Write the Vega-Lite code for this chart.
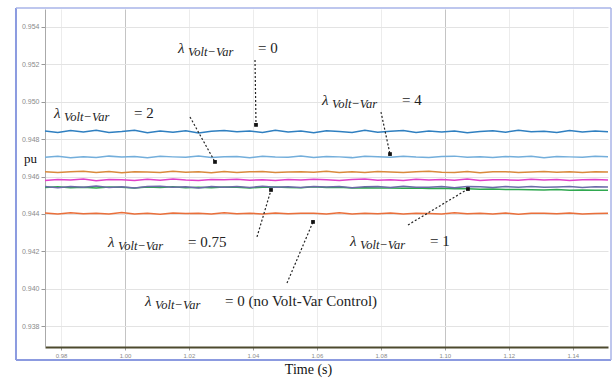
{
  "$schema": "https://vega.github.io/schema/vega-lite/v6.json",
  "width": 563,
  "height": 338,
  "autosize": {"type": "none"},
  "padding": {"left": 45, "top": 9, "right": 5, "bottom": 32},
  "background": "white",
  "config": {"view": {"stroke": null}, "font": "Liberation Sans"},
  "datasets": {
    "series": [
      {"t": 0.975, "l0": 0.94843, "l4": 0.94703, "l2": 0.94626, "l075": 0.94579, "l1": 0.94546, "l1g": 0.94541, "nvv": 0.94405},
      {"t": 0.979, "l0": 0.94835, "l4": 0.94708, "l2": 0.94621, "l075": 0.94584, "l1": 0.9454, "l1g": 0.94545, "nvv": 0.944},
      {"t": 0.983, "l0": 0.94846, "l4": 0.94701, "l2": 0.94625, "l075": 0.94581, "l1": 0.94547, "l1g": 0.9454, "nvv": 0.94406},
      {"t": 0.987, "l0": 0.94838, "l4": 0.94706, "l2": 0.94628, "l075": 0.94586, "l1": 0.94543, "l1g": 0.94543, "nvv": 0.94401},
      {"t": 0.991, "l0": 0.94847, "l4": 0.94702, "l2": 0.94622, "l075": 0.94577, "l1": 0.94549, "l1g": 0.94539, "nvv": 0.94404},
      {"t": 0.995, "l0": 0.94836, "l4": 0.94709, "l2": 0.94627, "l075": 0.94584, "l1": 0.94541, "l1g": 0.94544, "nvv": 0.94399},
      {"t": 0.999, "l0": 0.94841, "l4": 0.94704, "l2": 0.9462, "l075": 0.94583, "l1": 0.94545, "l1g": 0.94542, "nvv": 0.94407},
      {"t": 1.003, "l0": 0.94848, "l4": 0.94707, "l2": 0.94626, "l075": 0.94579, "l1": 0.94538, "l1g": 0.94538, "nvv": 0.944},
      {"t": 1.007, "l0": 0.94834, "l4": 0.947, "l2": 0.94624, "l075": 0.94585, "l1": 0.94546, "l1g": 0.94544, "nvv": 0.94403},
      {"t": 1.011, "l0": 0.94843, "l4": 0.94708, "l2": 0.94621, "l075": 0.9458, "l1": 0.94548, "l1g": 0.94541, "nvv": 0.94398},
      {"t": 1.015, "l0": 0.94837, "l4": 0.94705, "l2": 0.94628, "l075": 0.94587, "l1": 0.94542, "l1g": 0.94545, "nvv": 0.94405},
      {"t": 1.019, "l0": 0.94845, "l4": 0.94703, "l2": 0.94623, "l075": 0.94581, "l1": 0.94545, "l1g": 0.9454, "nvv": 0.94402},
      {"t": 1.023, "l0": 0.94833, "l4": 0.94709, "l2": 0.94626, "l075": 0.94578, "l1": 0.94539, "l1g": 0.94543, "nvv": 0.94404},
      {"t": 1.027, "l0": 0.94842, "l4": 0.94702, "l2": 0.9462, "l075": 0.94584, "l1": 0.94547, "l1g": 0.9454, "nvv": 0.94399},
      {"t": 1.031, "l0": 0.94846, "l4": 0.94706, "l2": 0.94627, "l075": 0.94582, "l1": 0.94543, "l1g": 0.94544, "nvv": 0.94406},
      {"t": 1.035, "l0": 0.94839, "l4": 0.94707, "l2": 0.94622, "l075": 0.94585, "l1": 0.94546, "l1g": 0.94542, "nvv": 0.94401},
      {"t": 1.039, "l0": 0.94844, "l4": 0.94701, "l2": 0.94625, "l075": 0.9458, "l1": 0.94541, "l1g": 0.94539, "nvv": 0.94404},
      {"t": 1.043, "l0": 0.94835, "l4": 0.94708, "l2": 0.94627, "l075": 0.94583, "l1": 0.94548, "l1g": 0.94543, "nvv": 0.944},
      {"t": 1.047, "l0": 0.94848, "l4": 0.94704, "l2": 0.94622, "l075": 0.94579, "l1": 0.94542, "l1g": 0.94544, "nvv": 0.94405},
      {"t": 1.051, "l0": 0.94838, "l4": 0.94703, "l2": 0.94624, "l075": 0.94584, "l1": 0.94545, "l1g": 0.94541, "nvv": 0.94401},
      {"t": 1.055, "l0": 0.94843, "l4": 0.94709, "l2": 0.94626, "l075": 0.94581, "l1": 0.94541, "l1g": 0.9454, "nvv": 0.94403},
      {"t": 1.059, "l0": 0.94834, "l4": 0.94702, "l2": 0.94623, "l075": 0.94585, "l1": 0.94546, "l1g": 0.94545, "nvv": 0.94404},
      {"t": 1.063, "l0": 0.94845, "l4": 0.94707, "l2": 0.94628, "l075": 0.94582, "l1": 0.94544, "l1g": 0.94541, "nvv": 0.944},
      {"t": 1.067, "l0": 0.94841, "l4": 0.94705, "l2": 0.94621, "l075": 0.94578, "l1": 0.94547, "l1g": 0.94542, "nvv": 0.94406},
      {"t": 1.071, "l0": 0.94836, "l4": 0.94701, "l2": 0.94625, "l075": 0.94584, "l1": 0.9454, "l1g": 0.94539, "nvv": 0.94399},
      {"t": 1.075, "l0": 0.94847, "l4": 0.94708, "l2": 0.94622, "l075": 0.94586, "l1": 0.94545, "l1g": 0.9454, "nvv": 0.94403},
      {"t": 1.079, "l0": 0.94837, "l4": 0.94706, "l2": 0.94627, "l075": 0.9458, "l1": 0.94546, "l1g": 0.94538, "nvv": 0.94401},
      {"t": 1.083, "l0": 0.94842, "l4": 0.94703, "l2": 0.94624, "l075": 0.94583, "l1": 0.94541, "l1g": 0.94539, "nvv": 0.94405},
      {"t": 1.087, "l0": 0.94846, "l4": 0.94708, "l2": 0.94621, "l075": 0.94579, "l1": 0.94548, "l1g": 0.94537, "nvv": 0.944},
      {"t": 1.091, "l0": 0.94835, "l4": 0.94704, "l2": 0.94626, "l075": 0.94585, "l1": 0.94543, "l1g": 0.94538, "nvv": 0.94404},
      {"t": 1.095, "l0": 0.94843, "l4": 0.94702, "l2": 0.94628, "l075": 0.94581, "l1": 0.94542, "l1g": 0.94536, "nvv": 0.94402},
      {"t": 1.099, "l0": 0.94838, "l4": 0.94707, "l2": 0.94623, "l075": 0.94584, "l1": 0.94547, "l1g": 0.94537, "nvv": 0.94399},
      {"t": 1.103, "l0": 0.94844, "l4": 0.94709, "l2": 0.94622, "l075": 0.9458, "l1": 0.9454, "l1g": 0.94535, "nvv": 0.94406},
      {"t": 1.107, "l0": 0.94834, "l4": 0.94703, "l2": 0.94627, "l075": 0.94586, "l1": 0.94546, "l1g": 0.94534, "nvv": 0.94401},
      {"t": 1.111, "l0": 0.94841, "l4": 0.94706, "l2": 0.9462, "l075": 0.94579, "l1": 0.94545, "l1g": 0.94532, "nvv": 0.94404},
      {"t": 1.115, "l0": 0.94845, "l4": 0.94702, "l2": 0.94625, "l075": 0.94583, "l1": 0.94541, "l1g": 0.94533, "nvv": 0.944},
      {"t": 1.119, "l0": 0.94837, "l4": 0.94707, "l2": 0.94626, "l075": 0.94582, "l1": 0.94546, "l1g": 0.9453, "nvv": 0.94405},
      {"t": 1.123, "l0": 0.94847, "l4": 0.94704, "l2": 0.94621, "l075": 0.9458, "l1": 0.94543, "l1g": 0.94531, "nvv": 0.94398},
      {"t": 1.127, "l0": 0.94839, "l4": 0.94708, "l2": 0.94624, "l075": 0.94585, "l1": 0.94547, "l1g": 0.94529, "nvv": 0.94403},
      {"t": 1.131, "l0": 0.94842, "l4": 0.94701, "l2": 0.94627, "l075": 0.94581, "l1": 0.94542, "l1g": 0.94528, "nvv": 0.94404},
      {"t": 1.135, "l0": 0.94836, "l4": 0.94707, "l2": 0.94623, "l075": 0.94584, "l1": 0.94544, "l1g": 0.9453, "nvv": 0.94401},
      {"t": 1.139, "l0": 0.94846, "l4": 0.94705, "l2": 0.94626, "l075": 0.94579, "l1": 0.94546, "l1g": 0.94527, "nvv": 0.94405},
      {"t": 1.143, "l0": 0.94838, "l4": 0.94703, "l2": 0.94622, "l075": 0.94583, "l1": 0.94541, "l1g": 0.94528, "nvv": 0.944},
      {"t": 1.147, "l0": 0.94843, "l4": 0.94708, "l2": 0.94625, "l075": 0.94584, "l1": 0.94545, "l1g": 0.94526, "nvv": 0.94402},
      {"t": 1.151, "l0": 0.9484, "l4": 0.94706, "l2": 0.94624, "l075": 0.94581, "l1": 0.94544, "l1g": 0.94527, "nvv": 0.94403}
    ],
    "ann": [
      {"t": 1.0166, "v": 0.95288, "lab": "= 0"},
      {"t": 0.97782, "v": 0.9494, "lab": "= 2"},
      {"t": 1.06159, "v": 0.9501, "lab": "= 4"},
      {"t": 0.99469, "v": 0.9425, "lab": "= 0.75"},
      {"t": 1.07034, "v": 0.94255, "lab": "= 1"},
      {"t": 1.00626, "v": 0.93934, "lab": "= 0 (no Volt-Var Control)"}
    ],
    "arrows": [
      {"t": 1.04065, "v": 0.95223, "t2": 1.04096, "v2": 0.94876},
      {"t": 1.02033, "v": 0.94918, "t2": 1.02814, "v2": 0.94678},
      {"t": 1.08003, "v": 0.94945, "t2": 1.08285, "v2": 0.9472},
      {"t": 1.04127, "v": 0.94277, "t2": 1.04565, "v2": 0.94528},
      {"t": 1.08848, "v": 0.94341, "t2": 1.10722, "v2": 0.94533},
      {"t": 1.05065, "v": 0.9403, "t2": 1.05878, "v2": 0.94357}
    ]
  },
  "layer": [
    {
      "data": {"name": "series"},
      "transform": [{"fold": ["nvv", "l1g", "l1", "l075", "l2", "l4", "l0"], "as": ["key", "v"]}],
      "mark": {"type": "line", "strokeWidth": 1.5},
      "encoding": {
        "x": {
          "field": "t", "type": "quantitative",
          "scale": {"domain": [0.975, 1.151], "nice": false, "zero": false},
          "axis": {
            "values": [0.98, 0.99, 1.0, 1.01, 1.02, 1.03, 1.04, 1.05, 1.06, 1.07, 1.08, 1.09, 1.1, 1.11, 1.12, 1.13, 1.14, 1.15],
            "format": ".2f", "labelFontSize": 6, "labelColor": "#8a8a8a", "labelOverlap": false, "labelFlush": false,
            "tickSize": 3, "tickColor": "#999999", "domainColor": "#4d4a2e", "domainWidth": 2, "labelPadding": 2,
            "gridColor": {"condition": {"test": "abs(datum.value-1.0)<0.001 || abs(datum.value-1.05)<0.001 || abs(datum.value-1.1)<0.001", "value": "#c4c4c4"}, "value": "#ececec"},
            "title": "Time (s)", "titleFont": "Liberation Serif", "titleFontSize": 14, "titleFontWeight": "normal",
            "titleColor": "#111111", "titleX": 263, "titleY": 22, "titleBaseline": "middle", "titleAlign": "center"
          }
        },
        "y": {
          "field": "v", "type": "quantitative",
          "scale": {"domain": [0.93688, 0.95496], "nice": false, "zero": false},
          "axis": {
            "values": [0.938, 0.94, 0.942, 0.944, 0.946, 0.948, 0.95, 0.952, 0.954],
            "format": ".3f", "labelFontSize": 7, "labelColor": "#8a8a8a", "tickSize": 4, "tickColor": "#999999",
            "domainColor": "#aaaaaa", "gridColor": "#e3e3e3", "labelPadding": 2,
            "title": "pu", "titleAngle": 0, "titleX": -15, "titleY": 149, "titleAlign": "center", "titleBaseline": "middle",
            "titleFont": "Liberation Serif", "titleFontSize": 13, "titleFontWeight": "normal", "titleColor": "#111111"
          }
        },
        "color": {
          "field": "key", "type": "nominal", "legend": null,
          "scale": {
            "domain": ["nvv", "l1g", "l1", "l075", "l2", "l4", "l0"],
            "range": ["#ea6f3a", "#2fa84f", "#6b6ba8", "#e040c8", "#d98a3c", "#73aedb", "#2f7fc0"]
          }
        }
      }
    },
    {
      "data": {"values": [{}]},
      "mark": {"type": "rule", "stroke": "#8c9be0", "strokeWidth": 2},
      "encoding": {
        "x": {"datum": 0.96593, "type": "quantitative", "scale": {"domain": [0.975, 1.151], "nice": false, "zero": false}},
        "y": {"datum": 0.95502, "type": "quantitative", "scale": {"domain": [0.93688, 0.95496], "nice": false, "zero": false}},
        "y2": {"datum": 0.93618}
      }
    },
    {
      "data": {"values": [{}]},
      "mark": {"type": "rule", "stroke": "#8c9be0", "strokeWidth": 2},
      "encoding": {
        "x": {"datum": 0.96593, "type": "quantitative", "scale": {"domain": [0.975, 1.151], "nice": false, "zero": false}},
        "x2": {"datum": 1.15194},
        "y": {"datum": 0.93618, "type": "quantitative", "scale": {"domain": [0.93688, 0.95496], "nice": false, "zero": false}}
      }
    },
    {
      "data": {"values": [{}]},
      "mark": {"type": "rule", "stroke": "#a9b4e8", "strokeWidth": 1.5},
      "encoding": {
        "x": {"datum": 1.15194, "type": "quantitative", "scale": {"domain": [0.975, 1.151], "nice": false, "zero": false}},
        "y": {"datum": 0.95502, "type": "quantitative", "scale": {"domain": [0.93688, 0.95496], "nice": false, "zero": false}},
        "y2": {"datum": 0.93618}
      }
    },
    {
      "data": {"values": [{}]},
      "mark": {"type": "rule", "stroke": "#a9b4e8", "strokeWidth": 1.5},
      "encoding": {
        "x": {"datum": 0.96593, "type": "quantitative", "scale": {"domain": [0.975, 1.151], "nice": false, "zero": false}},
        "x2": {"datum": 1.15194},
        "y": {"datum": 0.95502, "type": "quantitative", "scale": {"domain": [0.93688, 0.95496], "nice": false, "zero": false}}
      }
    },
    {
      "data": {"name": "arrows"},
      "mark": {"type": "rule", "stroke": "#222222", "strokeWidth": 1.2, "strokeDash": [2, 2]},
      "encoding": {
        "x": {"field": "t", "type": "quantitative", "scale": {"domain": [0.975, 1.151], "nice": false, "zero": false}},
        "y": {"field": "v", "type": "quantitative", "scale": {"domain": [0.93688, 0.95496], "nice": false, "zero": false}},
        "x2": {"field": "t2"},
        "y2": {"field": "v2"}
      }
    },
    {
      "data": {"name": "arrows"},
      "mark": {"type": "point", "shape": "square", "filled": true, "size": 14, "color": "#111111", "opacity": 1},
      "encoding": {
        "x": {"field": "t2", "type": "quantitative", "scale": {"domain": [0.975, 1.151], "nice": false, "zero": false}},
        "y": {"field": "v2", "type": "quantitative", "scale": {"domain": [0.93688, 0.95496], "nice": false, "zero": false}}
      }
    },
    {
      "data": {"name": "ann"},
      "mark": {"type": "text", "text": "λ", "font": "Liberation Serif", "fontStyle": "italic", "fontSize": 15, "align": "left", "baseline": "middle", "color": "#222222"},
      "encoding": {
        "x": {"field": "t", "type": "quantitative", "scale": {"domain": [0.975, 1.151], "nice": false, "zero": false}},
        "y": {"field": "v", "type": "quantitative", "scale": {"domain": [0.93688, 0.95496], "nice": false, "zero": false}}
      }
    },
    {
      "data": {"name": "ann"},
      "mark": {"type": "text", "text": "Volt−Var", "font": "Liberation Serif", "fontStyle": "italic", "fontSize": 12.5, "letterSpacing": 3, "align": "left", "baseline": "middle", "dx": 10, "dy": 4, "color": "#222222"},
      "encoding": {
        "x": {"field": "t", "type": "quantitative", "scale": {"domain": [0.975, 1.151], "nice": false, "zero": false}},
        "y": {"field": "v", "type": "quantitative", "scale": {"domain": [0.93688, 0.95496], "nice": false, "zero": false}}
      }
    },
    {
      "data": {"name": "ann"},
      "mark": {"type": "text", "font": "Liberation Serif", "fontSize": 15, "align": "left", "baseline": "middle", "dx": 80, "color": "#222222"},
      "encoding": {
        "text": {"field": "lab", "type": "nominal"},
        "x": {"field": "t", "type": "quantitative", "scale": {"domain": [0.975, 1.151], "nice": false, "zero": false}},
        "y": {"field": "v", "type": "quantitative", "scale": {"domain": [0.93688, 0.95496], "nice": false, "zero": false}}
      }
    }
  ]
}
